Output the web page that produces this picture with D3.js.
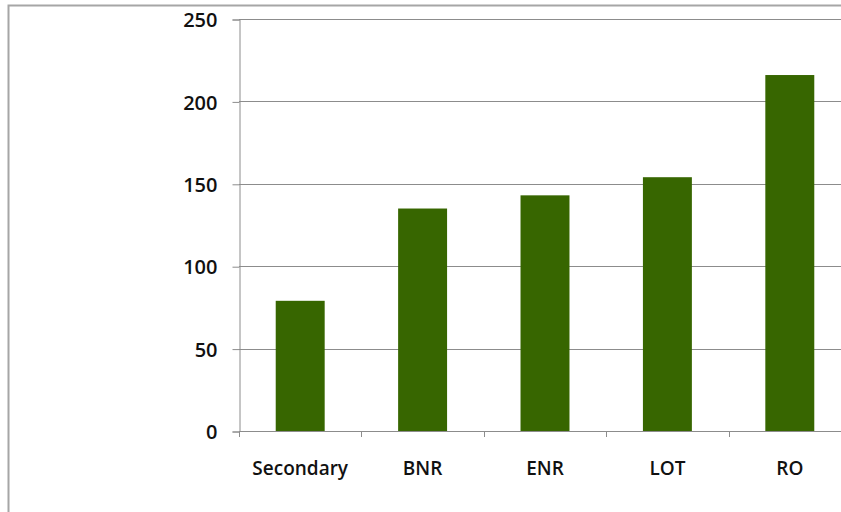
<!DOCTYPE html>
<html>
<head>
<meta charset="utf-8">
<script src="https://cdn.jsdelivr.net/npm/d3@7"></script>
<style>
  html, body { margin: 0; padding: 0; background: #fff; }
  svg { display: block; }
  text { font-family: "Open Sans", "Noto Sans", sans-serif; font-weight: 600; fill: #111; }
</style>
</head>
<body>
<svg id="chart" width="841" height="512"></svg>
<script>
// Chart data
const categories = ["Secondary", "BNR", "ENR", "LOT", "RO"];
const values = [79, 135, 143, 154, 216];
const yTicks = [0, 50, 100, 150, 200, 250];

const svg = d3.select("#chart");

// Outer chart frame (runs off the right and bottom edges)
svg.append("rect")
  .attr("x", 8.5).attr("y", 5.5)
  .attr("width", 900).attr("height", 560)
  .attr("fill", "#fff")
  .attr("stroke", "#a6a6a6")
  .attr("stroke-width", 2);

const plot = { left: 239, right: 851, top: 19, bottom: 431 };

const x = d3.scaleBand()
  .domain(categories)
  .range([plot.left, plot.right])
  .padding(0);

const y = d3.scaleLinear()
  .domain([0, 250])
  .range([plot.bottom, plot.top]);

// Horizontal gridlines
svg.append("g")
  .selectAll("line")
  .data(yTicks.filter(d => d > 0))
  .join("line")
  .attr("x1", plot.left).attr("x2", plot.right)
  .attr("y1", d => Math.round(y(d)) + 0.5)
  .attr("y2", d => Math.round(y(d)) + 0.5)
  .attr("stroke", "#8c8c8c")
  .attr("stroke-width", 1);

// Bars
const barFrac = 0.4;
svg.append("g")
  .selectAll("rect")
  .data(categories.map((c, i) => ({ c, v: values[i] })))
  .join("rect")
  .attr("x", d => x(d.c) + x.bandwidth() * (1 - barFrac) / 2)
  .attr("width", x.bandwidth() * barFrac)
  .attr("y", d => y(d.v))
  .attr("height", d => y(0) - y(d.v))
  .attr("fill", "#376600");

// Y axis
const yAxis = d3.axisLeft(y)
  .tickValues(yTicks)
  .tickSize(7)
  .tickPadding(15)
  .tickFormat(d3.format("d"));

const gy = svg.append("g")
  .attr("transform", `translate(${plot.left + 0.5},0.5)`)
  .call(yAxis);
gy.select(".domain").attr("stroke", "#8c8c8c");
gy.selectAll(".tick line").attr("stroke", "#8c8c8c");
gy.selectAll(".tick text")
  .attr("font-size", 20)
  .attr("font-weight", 700)
  .attr("fill", "#111")
  .attr("dy", "0.36em");

// X axis: ticks at category boundaries
const boundaries = categories.map(c => x(c)).concat([plot.right]);
svg.append("line")
  .attr("x1", plot.left).attr("x2", plot.right)
  .attr("y1", plot.bottom + 0.5).attr("y2", plot.bottom + 0.5)
  .attr("stroke", "#8c8c8c");
svg.append("g")
  .selectAll("line")
  .data(boundaries)
  .join("line")
  .attr("x1", d => Math.round(d) + 0.5).attr("x2", d => Math.round(d) + 0.5)
  .attr("y1", plot.bottom).attr("y2", plot.bottom + 6)
  .attr("stroke", "#8c8c8c");

svg.append("g")
  .selectAll("text")
  .data(categories)
  .join("text")
  .attr("x", d => x(d) + x.bandwidth() / 2)
  .attr("y", 475)
  .attr("text-anchor", "middle")
  .attr("font-size", 19)
  .text(d => d);
</script>
</body>
</html>
